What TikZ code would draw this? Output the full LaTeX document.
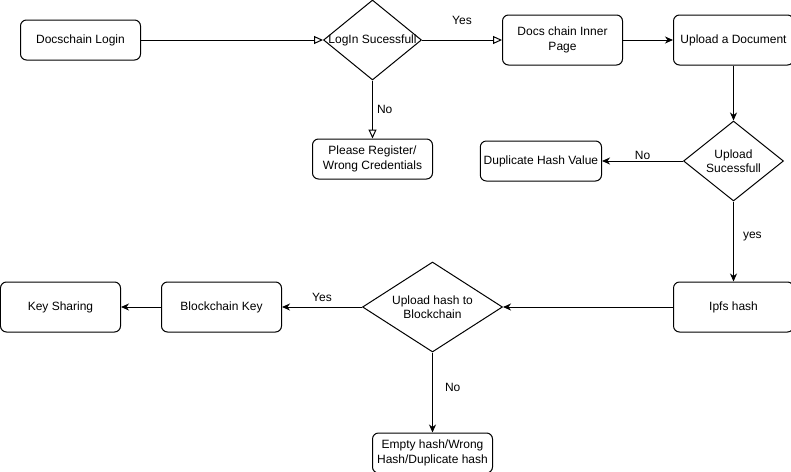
\documentclass[tikz,border=0pt]{standalone}
\usepackage{fontspec}
\setmainfont{Liberation Sans}
\usepackage{tikz}
\usetikzlibrary{shapes.geometric, arrows.meta, positioning}
\tikzstyle{process} = [rectangle, rounded corners=6pt, 
minimum width=120pt, 
minimum height=50pt, 
align=center, 
draw=black, line width=1pt]
\tikzstyle{decision} = [diamond, 
inner sep=0pt, 
draw=black, line width=1pt]
\tikzstyle{arrow} = [line width=1pt,-{Stealth[length=8pt,width=7pt,inset=2.5pt]}]
\tikzstyle{openarrow} = [line width=1pt,-{Triangle[open,length=9pt,width=8pt]}]
\tikzstyle{lbl} = [inner sep=1pt]

\begin{document}
\begin{tikzpicture}[x=1pt, y=-1pt, font=\fontsize{12}{14.5}\selectfont]
        \useasboundingbox (-0.5,0) rectangle (790.5,471);

        \node (login) [process, minimum height=40pt] at (80,40) {Docschain Login};
        \node (login_ok) [decision, minimum width=98pt, minimum height=80pt, right=182pt of login,
            label={center:LogIn Sucessfull}] {};
        \node (register) [process, minimum height=40pt, below=58pt of login_ok] {Please Register/\\Wrong Credentials};
        \node (inner) [process, right=80pt of login_ok] {Docs chain Inner\\Page};
        \node (upload) [process, right=50pt of inner] {Upload a Document};

        \node (upload_ok) [decision, minimum width=100pt, minimum height=80pt, below=55pt of upload,
            label={[align=center]center:Upload\\Sucessfull}] {};
        \node (dup) [process, minimum height=40pt, left=81pt of upload_ok] {Duplicate Hash Value};
        \node (ipfs) [process, below=80pt of upload_ok] {Ipfs hash};

        \node (chain_ok) [decision, minimum width=140pt, minimum height=90pt, left=170pt of ipfs,
            label={[align=center]center:Upload hash to\\Blockchain}] {};
        \node (bkey) [process, left=80pt of chain_ok] {Blockchain Key};
        \node (keyshare) [process, left=40pt of bkey] {Key Sharing};
        \node (empty) [process, minimum height=40pt, below=80pt of chain_ok] {Empty hash/Wrong\\Hash/Duplicate hash};

        \draw [openarrow] (login) -- (login_ok);
        \draw [openarrow] (login_ok) -- node[lbl, above=14pt] {Yes} (inner);
        \draw [openarrow] (login_ok) -- node[lbl, right=3pt] {No} (register);
        \draw [arrow] (inner) -- (upload);
        \draw [arrow] (upload) -- (upload_ok);

        \draw [arrow] (upload_ok) -- node[lbl, above=0pt] {No} (dup);
        \draw [arrow] (upload_ok) -- node[lbl, right=8pt, pos=0.44] {yes} (ipfs);
        \draw [arrow] (ipfs) -- (chain_ok);

        \draw [arrow] (chain_ok) -- node[lbl, above=4pt] {Yes} (bkey);
        \draw [arrow] (bkey) -- (keyshare);
        \draw [arrow] (chain_ok) -- node[lbl, right=11pt, pos=0.44] {No} (empty);

    \end{tikzpicture}
\end{document}
